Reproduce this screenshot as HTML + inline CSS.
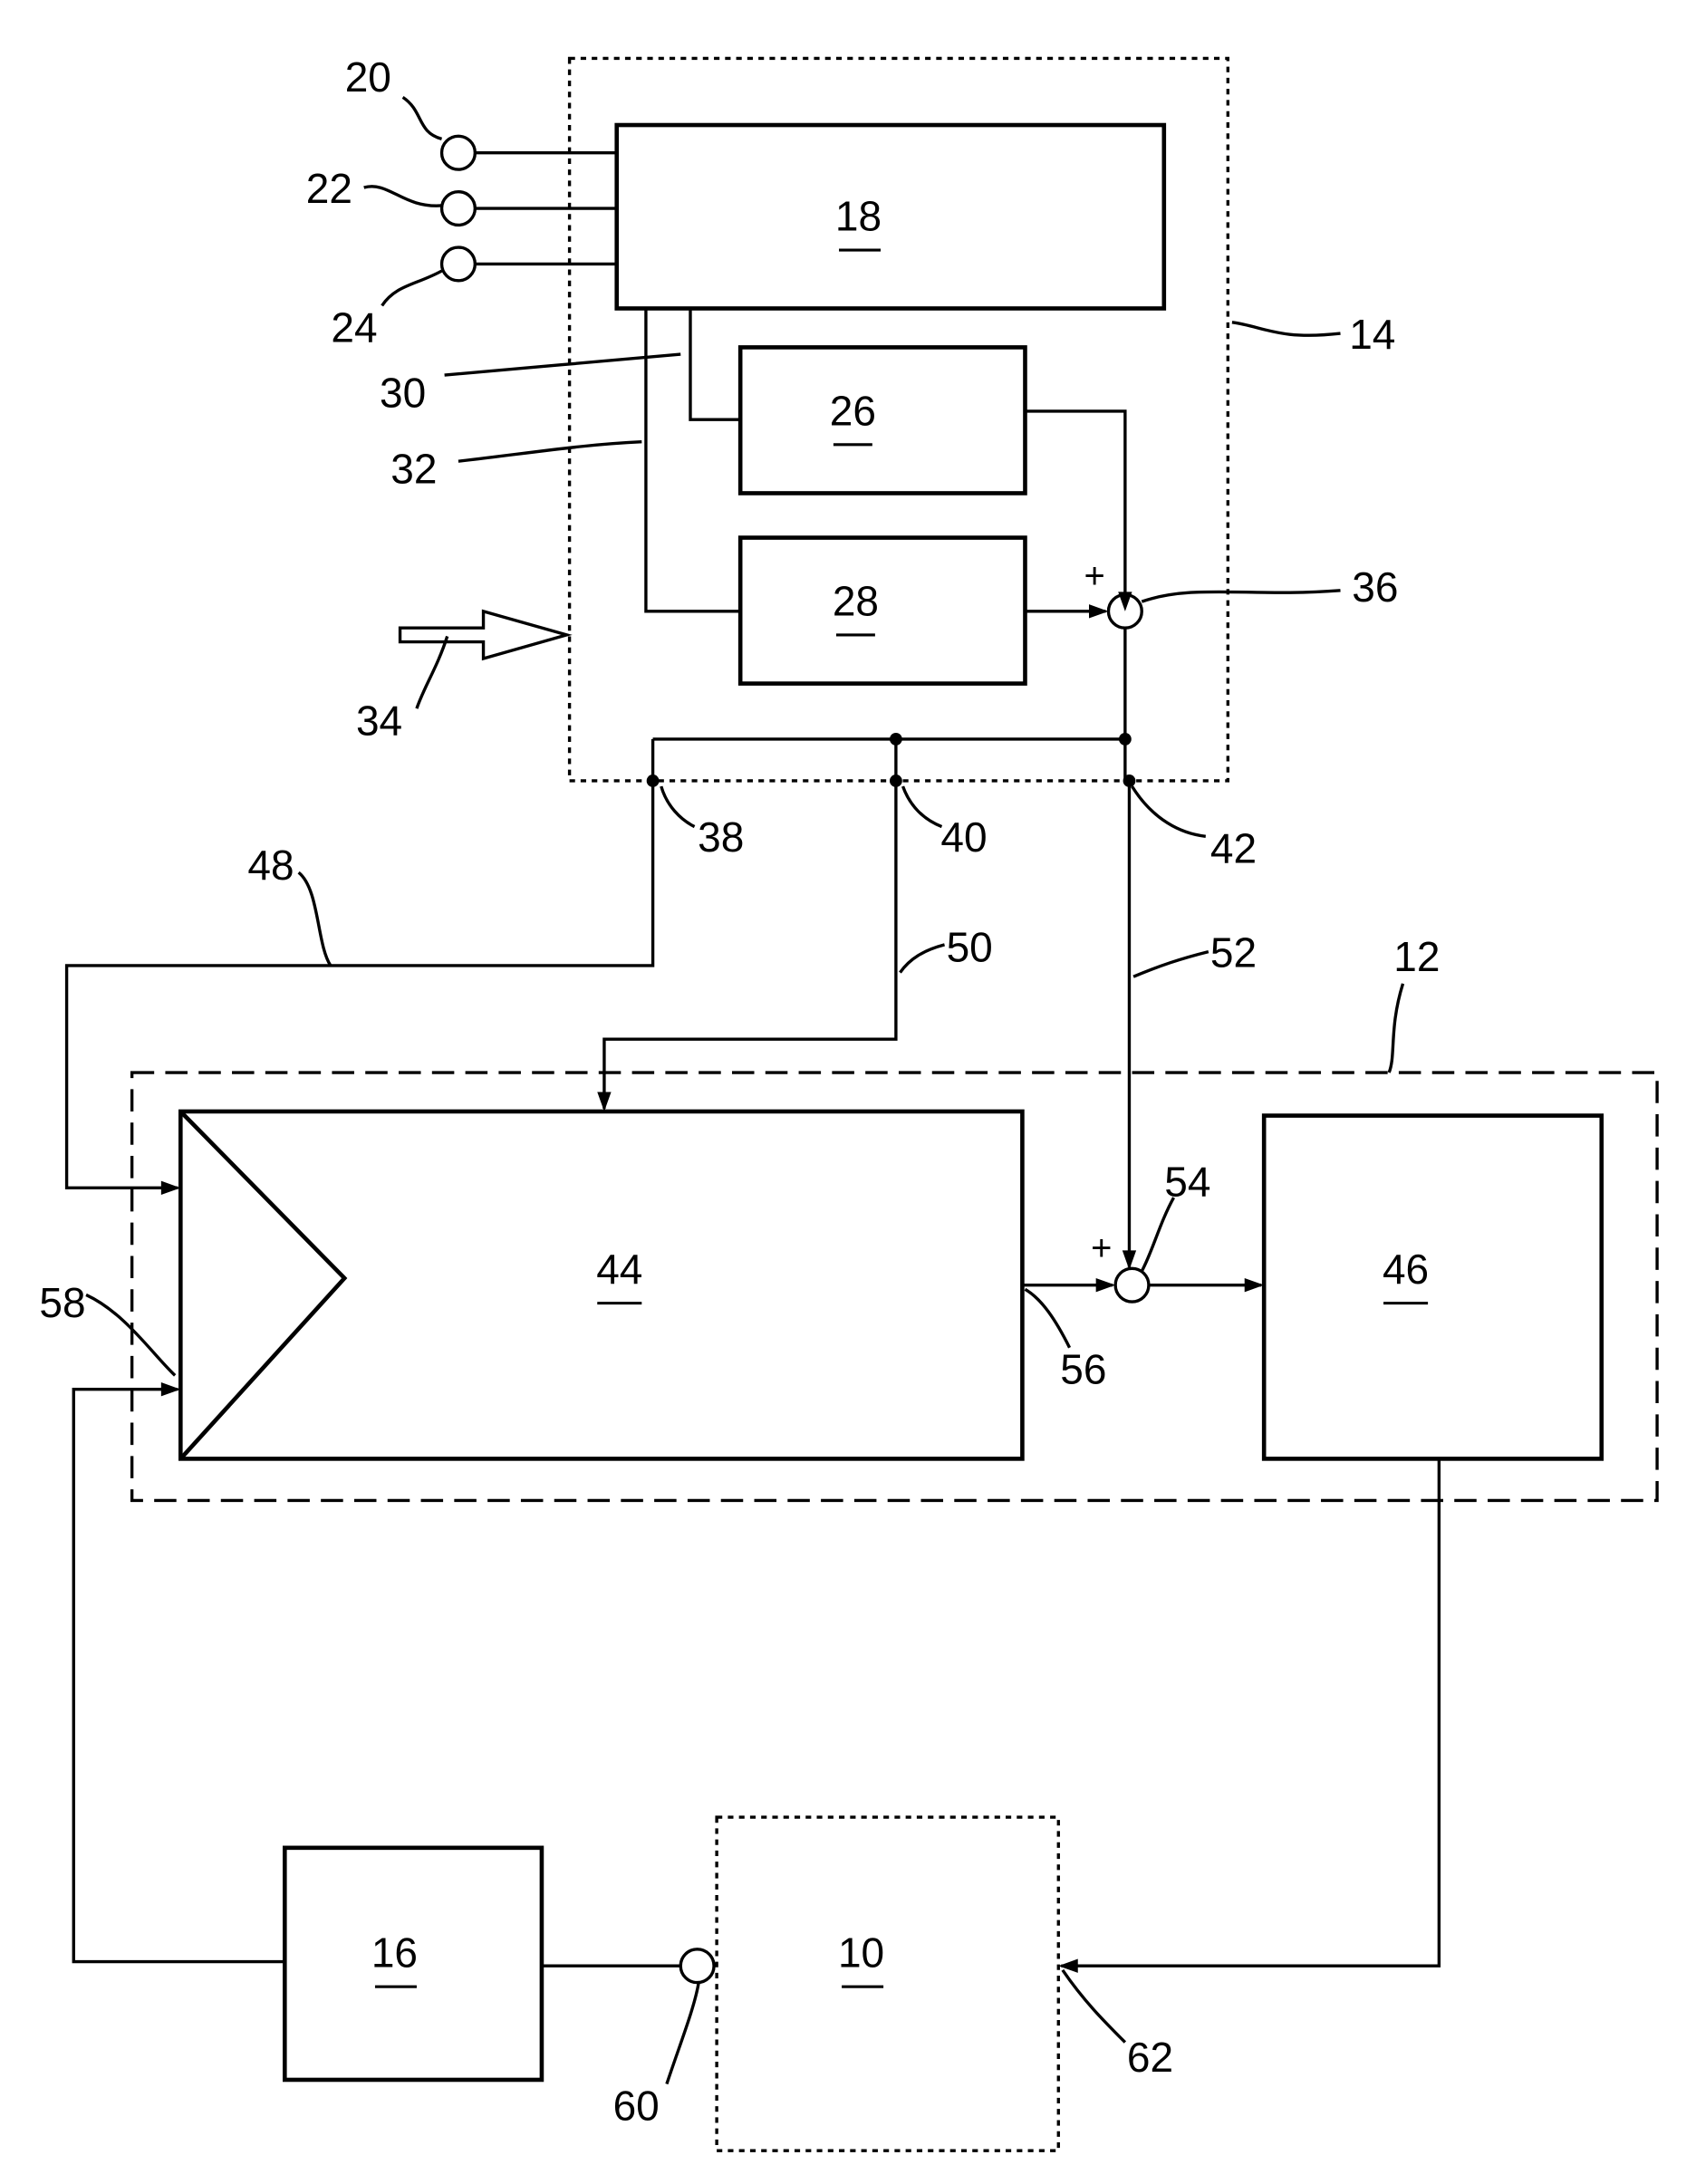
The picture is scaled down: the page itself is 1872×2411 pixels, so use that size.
<!DOCTYPE html>
<html><head><style>html,body{margin:0;padding:0;background:#fff}svg{display:block}</style></head><body>
<svg width="1872" height="2411" viewBox="0 0 1221 1572" preserveAspectRatio="none" xmlns="http://www.w3.org/2000/svg">
<g fill="none" stroke="#000" stroke-width="2.2">
<rect x="410" y="42" width="474" height="520" stroke-dasharray="4,4"/>
<rect x="95" y="772" width="1098" height="308" stroke-dasharray="16,8"/>
<rect x="516" y="1308" width="246" height="240" stroke-dasharray="4,4"/>
<rect x="444" y="90" width="394" height="132" stroke-width="3"/>
<rect x="533" y="250" width="205" height="105" stroke-width="3"/>
<rect x="533" y="387" width="205" height="105" stroke-width="3"/>
<rect x="130" y="800" width="606" height="250" stroke-width="3"/>
<path d="M130 800 L248 920 L130 1050" stroke-width="3"/>
<rect x="910" y="803" width="243" height="247" stroke-width="3"/>
<rect x="205" y="1330" width="185" height="167" stroke-width="3"/>
<circle cx="330" cy="110" r="12"/><circle cx="330" cy="150" r="12"/><circle cx="330" cy="190" r="12"/>
<path d="M342 110H444M342 150H444M342 190H444"/>
<path d="M497 222V302H533M465 222V440H533"/>
<path d="M738 296H810V428"/>
<path d="M738 440H796"/>
<circle cx="810" cy="440" r="12"/>
<path d="M810 452V562M470 532H810"/>
<path d="M470 532V695H48V855H128"/>
<path d="M645 532V748H435V798"/>
<path d="M813 562V912"/>
<circle cx="815" cy="925" r="12"/>
<path d="M736 925H801M827 925H908"/>
<path d="M1036 1050V1415H764"/>
<circle cx="502" cy="1415" r="12"/>
<path d="M390 1415H490"/>
<path d="M205 1412H53V1000H128"/>
<path d="M288 452H348V440L408 457L348 474V462H288Z"/>
<!-- leaders -->
<path d="M290 70C305 80 300 95 318 100"/>
<path d="M262 135C280 130 290 150 318 148"/>
<path d="M275 220C285 205 300 205 318 195"/>
<path d="M887 232C910 235 920 245 965 240"/>
<path d="M320 270C380 265 430 260 490 255"/>
<path d="M330 332C390 325 420 320 462 318"/>
<path d="M822 433C860 420 900 430 965 425"/>
<path d="M300 510C305 495 315 480 322 458"/>
<path d="M476 566C480 580 490 590 500 595"/>
<path d="M650 566C655 580 665 590 678 595"/>
<path d="M815 566C830 590 850 600 868 602"/>
<path d="M215 628C230 640 228 680 238 695"/>
<path d="M680 680C665 684 655 690 648 700"/>
<path d="M870 685C850 690 835 695 816 703"/>
<path d="M1010 708C1000 740 1005 760 1000 772"/>
<path d="M845 862C835 880 830 900 822 915"/>
<path d="M62 932C90 945 110 975 126 990"/>
<path d="M770 970C760 950 750 935 738 928"/>
<path d="M480 1500C490 1470 500 1445 503 1427"/>
<path d="M810 1470C795 1455 780 1440 765 1418"/>
</g>
<g fill="#000">
<path d="M810 440l-5-14h10z"/>
<path d="M798 440l-14-5v10z"/>
<path d="M813 914l-5-14h10z"/>
<path d="M803 925l-14-5v10z"/>
<path d="M910 925l-14-5v10z"/>
<path d="M130 855l-14-5v10z"/>
<path d="M130 1000l-14-5v10z"/>
<path d="M435 800l-5-14h10z"/>
<path d="M762 1415l14-5v10z"/>
<circle cx="645" cy="532" r="4.5"/><circle cx="810" cy="532" r="4.5"/>
<circle cx="470" cy="562" r="4.5"/><circle cx="645" cy="562" r="4.5"/><circle cx="813" cy="562" r="4.5"/>
</g>
<g font-family="Liberation Sans, sans-serif" font-size="30" text-anchor="middle" fill="#000">
<text x="618" y="166">18</text><text x="614" y="306">26</text><text x="616" y="443">28</text>
<text x="446" y="924">44</text><text x="1012" y="924">46</text><text x="284" y="1416">16</text><text x="620" y="1416">10</text>
<text x="265" y="66">20</text><text x="237" y="146">22</text><text x="255" y="246">24</text>
<text x="988" y="251">14</text><text x="290" y="293">30</text><text x="298" y="348">32</text>
<text x="990" y="433">36</text><text x="273" y="529">34</text><text x="519" y="613">38</text>
<text x="694" y="613">40</text><text x="888" y="621">42</text><text x="195" y="633">48</text>
<text x="698" y="692">50</text><text x="888" y="696">52</text><text x="1020" y="699">12</text>
<text x="855" y="861">54</text><text x="45" y="948">58</text><text x="780" y="996">56</text>
<text x="458" y="1526">60</text><text x="828" y="1491">62</text>
<text x="788" y="423" font-size="26">+</text><text x="793" y="907" font-size="26">+</text>
</g>
<g stroke="#000" stroke-width="2">
<path d="M604 180H634M600 320H628M602 457H630M430 938H462M996 938H1028M270 1430H300M606 1430H636"/>
</g>
</svg>
</body></html>
